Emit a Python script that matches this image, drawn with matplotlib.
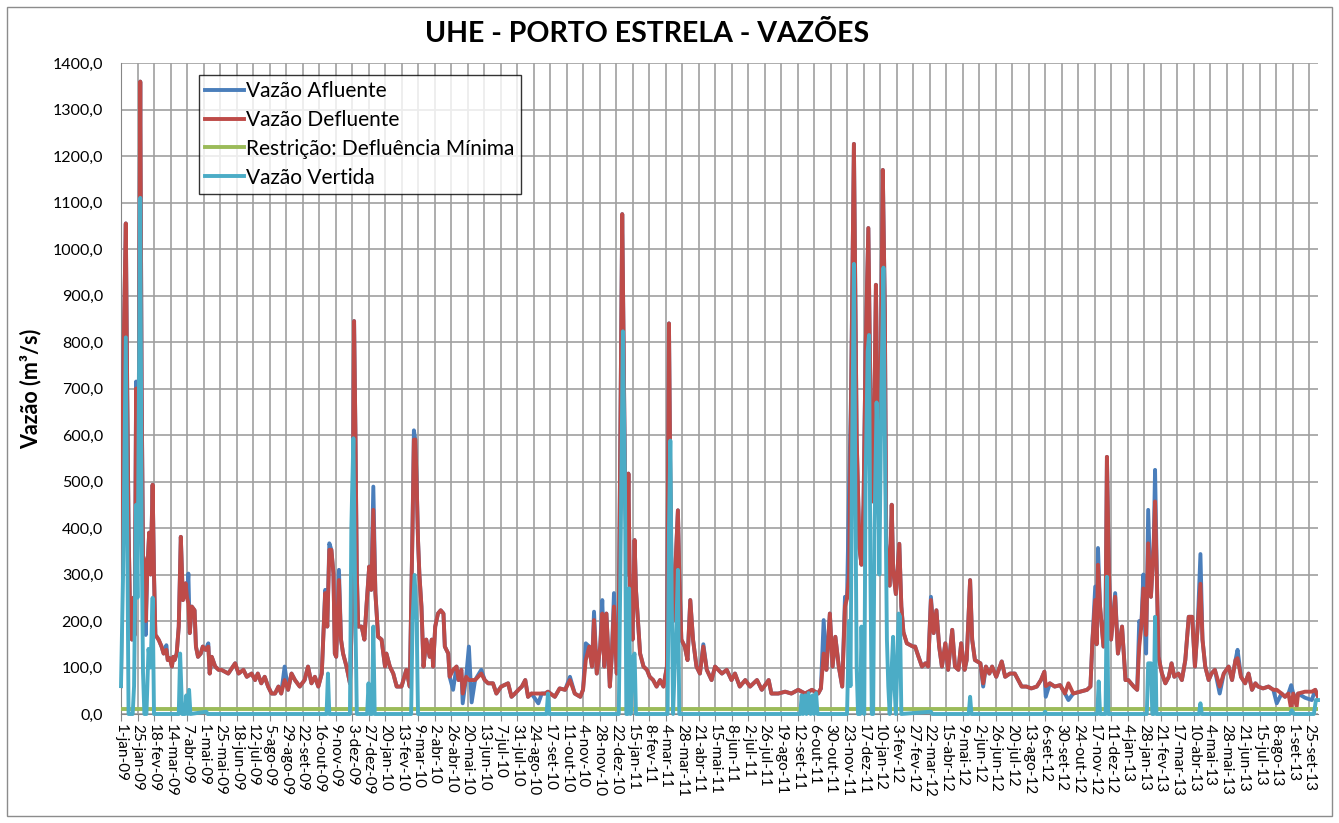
import datetime as dt
import matplotlib
matplotlib.use("Agg")
import matplotlib.pyplot as plt
from matplotlib.patches import Rectangle

# ---------------- data ----------------
inicio = dt.date(2009, 1, 1)
meses = ["jan", "fev", "mar", "abr", "mai", "jun", "jul", "ago", "set", "out", "nov", "dez"]

# day offsets from 1-jan-09 and Vazão Defluente (m³/s)
dias = [0, 2, 4, 7, 9, 11, 13, 16, 18, 20, 22, 24, 26, 28, 30, 32, 34, 36, 38, 41, 43, 46, 48, 50,
        52, 55, 59, 62, 66, 68, 71, 74, 76, 78, 81, 84, 87, 90, 94, 96, 98, 100, 103, 107, 109, 112,
        116, 119, 123, 127, 129, 132, 137, 142, 146, 156, 166, 171, 178, 183, 190, 195, 199, 204, 209,
        214, 219, 224, 229, 233, 238, 243, 248, 253, 260, 267, 272, 277, 282,
        287, 292, 297, 300, 303, 306, 309, 311, 313, 317, 320, 323, 328, 333, 336, 339, 341, 343, 345,
        350, 354, 357, 361, 364, 367, 370, 374, 379, 384, 386, 391, 396, 401, 408, 415, 420, 424, 426,
        428, 430, 432, 434, 437, 440, 444, 449, 452, 454, 457, 461, 465, 469, 471, 476, 478, 483, 488,
        491, 495, 497, 502, 506, 510, 515, 524, 529, 534, 541, 546, 553, 563, 568, 573,
        578, 583, 588, 592, 597, 607, 612, 617, 621, 631, 638, 646, 653, 660, 668, 672, 676, 681, 685,
        688, 692, 697, 700, 703, 706, 711, 714, 717, 721, 724, 729, 731, 733, 736, 738, 740, 744, 747,
        749, 755, 760, 765, 769, 774, 779, 784, 789, 794, 797, 799, 801, 803, 806, 810, 812, 815, 820,
        824, 828, 832, 837, 842, 847, 852, 859, 864, 874, 881, 888, 893, 900, 908, 915, 925, 932, 942,
        946, 956, 966, 975, 985, 995, 1005, 1014, 1018, 1022, 1026, 1031, 1035, 1039, 1044, 1049, 1053,
        1056, 1059, 1062, 1066, 1070, 1074, 1077, 1080, 1083, 1087, 1090, 1094, 1098, 1100, 1104, 1108,
        1111, 1113, 1118, 1121, 1123, 1127, 1132, 1135, 1138, 1143, 1147, 1152, 1155, 1160, 1165, 1170,
        1174, 1178, 1182, 1186, 1190, 1194, 1199, 1203, 1209, 1213, 1218, 1222, 1227, 1230, 1235, 1238,
        1242, 1250, 1254, 1258, 1263, 1267, 1273, 1281, 1286, 1293, 1300, 1305, 1310, 1317, 1324, 1332,
        1338, 1343, 1345, 1351, 1358, 1366, 1373, 1378, 1385, 1395, 1405, 1410, 1413, 1417, 1419, 1421,
        1424, 1429, 1432, 1434, 1437, 1440, 1446, 1450, 1456, 1461, 1465, 1473, 1478, 1481, 1484, 1487,
        1491, 1494, 1498, 1502, 1504, 1507, 1509, 1514, 1519, 1524, 1528, 1532, 1538, 1543, 1548, 1553,
        1558, 1562, 1566, 1570, 1573, 1577, 1582, 1586, 1591, 1598, 1604, 1611, 1616, 1621, 1624, 1629,
        1635, 1640, 1645, 1650, 1654, 1661, 1669, 1676, 1681, 1688, 1693, 1698, 1702, 1705, 1710, 1712,
        1722, 1732, 1737, 1741]

defluente = [60, 600, 800, 1055, 700, 400, 230, 160, 250, 170, 700, 420, 700, 1360, 700, 340, 330, 200, 300, 390, 300, 493, 300, 170,
             166, 159, 145, 130, 138, 116, 120, 102, 123, 116, 130, 188, 381, 245, 281, 250, 238, 174, 231, 223, 145, 123,
             130, 145, 138, 145, 87, 123, 102, 95, 95, 87, 109, 87, 95, 80, 87, 73, 87, 66, 80,
             59, 44, 44, 59, 44, 73, 52, 87, 73, 59, 73, 102, 66, 80,
             59, 87, 260, 188, 353, 353, 302, 130, 123, 288, 160, 130, 102, 66, 216, 845, 600, 300, 188,
             188, 160, 231, 317, 267, 439, 260, 166, 160, 102, 130, 102, 87, 59, 59, 95, 59, 400, 590,
             590, 500, 374, 300, 231, 102, 160, 123, 160, 102, 188, 216, 223, 216, 145, 130, 80, 95, 102,
             73, 95, 44, 80, 73, 73, 73, 87, 73, 66, 66, 44, 59, 66, 37, 44,
             52, 59, 73, 37, 44, 44, 44, 44, 48, 37, 55, 52, 73, 44, 37, 52, 116, 145, 102,
             202, 87, 145, 216, 102, 216, 59, 130, 231, 87, 200, 1075, 800, 500, 300, 517, 274, 160, 374,
             267, 130, 102, 95, 80, 73, 59, 73, 59, 102, 840, 500, 250, 200, 300, 438, 300, 160, 145,
             116, 245, 160, 102, 87, 145, 95, 73, 102, 87, 95, 73, 87, 59, 73, 59, 73, 52, 73,
             44, 44, 48, 44, 52, 44, 52, 44, 55, 130, 95, 216, 102, 166, 102, 59, 231,
             249, 300, 700, 1226, 593, 357, 321, 450, 783, 1045, 683, 457, 923, 683, 593, 1170,
             864, 366, 276, 450, 312, 258, 366, 231, 176, 152, 149, 145, 145, 123, 102, 109,
             102, 245, 174, 223, 145, 102, 152, 95, 181, 102, 95, 152, 95, 116, 288, 160,
             116, 109, 66, 102, 87, 102, 80, 113, 80, 87, 87, 73, 59, 59, 55, 59,
             73, 91, 60, 66, 59, 62, 44, 66, 44, 48, 52, 59, 160, 245, 150, 321,
             231, 145, 200, 553, 300, 160, 252, 130, 188, 73, 73, 59, 52, 145, 188, 270,
             170, 367, 252, 360, 457, 267, 123, 87, 66, 80, 109, 80, 87, 73, 116, 209,
             209, 102, 188, 280, 160, 102, 73, 87, 95, 59, 87, 102, 73, 116, 120, 80,
             66, 87, 52, 66, 59, 55, 59, 52, 52, 44, 37, 44, 10, 44, 16, 44,
             48, 48, 52, 37]

# Vazão Afluente: equal to the Defluente except on these days
afluente_dif = {22: 715, 36: 170, 66: 148, 98: 302, 127: 152, 238: 102, 297: 267, 303: 367,
                317: 310, 367: 489, 426: 610, 483: 52, 497: 23, 506: 145, 510: 25, 524: 95,
                607: 23, 653: 80, 676: 152, 688: 220, 700: 245, 717: 260, 847: 150,
                1022: 202, 1053: 252, 1059: 484, 1178: 252, 1254: 59, 1345: 37, 1378: 30,
                1417: 274, 1421: 357, 1446: 260, 1481: 200, 1487: 300, 1491: 130, 1494: 439,
                1504: 525, 1570: 344, 1598: 44, 1624: 138, 1681: 23, 1702: 62, 1710: 30,
                1722: 35, 1732: 30}

# Vazão Vertida (m³/s)
dias_vertida = [0, 3, 7, 9, 11, 17, 19, 22, 24, 28, 30, 32, 34, 37, 40, 43, 46, 48, 84, 86, 89, 93,
                95, 97, 99, 101, 124, 126, 299, 301, 303, 333, 335, 338, 341, 343, 358, 360, 362,
                365, 367, 369, 422, 424, 427, 430, 432, 619, 621, 623, 724, 727, 730, 733, 735, 737,
                739, 741, 745, 747, 749, 795, 797, 799, 801, 803, 805, 808, 810, 812, 988, 990, 992,
                995, 997, 1000, 1003, 1006, 1008, 1011, 1013, 1056, 1059, 1061, 1063, 1066, 1068,
                1070, 1072, 1075, 1077, 1079, 1081, 1083, 1086, 1088, 1090, 1092, 1094, 1096, 1099,
                1101, 1103, 1106, 1109, 1111, 1113, 1114, 1116, 1118, 1121, 1123, 1125, 1127, 1129,
                1131, 1133, 1135, 1178, 1180, 1233, 1235, 1237, 1342, 1344, 1346, 1420, 1422, 1424,
                1432, 1434, 1436, 1492, 1494, 1498, 1500, 1502, 1504, 1506, 1568, 1570, 1572, 1700,
                1703, 1706, 1735, 1738, 1741]
vertida = [60, 300, 810, 400, 0, 0, 60, 450, 250, 1110, 400, 90, 0, 0, 140, 100, 250, 0, 0, 130, 0, 0,
           40, 0, 52, 0, 5, 0, 0, 87, 0, 0, 400, 593, 200, 0, 0, 66, 0,
           0, 188, 0, 0, 200, 299, 200, 0, 0, 44, 0, 0, 400, 823, 500, 0, 0,
           270, 0, 123, 130, 0, 0, 400, 588, 250, 0, 87, 200, 310, 0, 0, 40, 0,
           40, 0, 45, 0, 40, 0, 45, 0, 0, 200, 60, 500, 968, 500,
           100, 0, 0, 188, 60, 0, 500, 780, 815, 300, 0, 0, 400, 670,
           570, 300, 700, 960, 600, 300, 160, 60, 0, 100, 166, 60, 0, 100,
           216, 210, 0, 5, 0, 0, 37, 0, 0, 5, 0, 0, 70, 0,
           0, 295, 0, 0, 109, 109, 0, 0, 209, 0, 0, 23, 0, 0,
           8, 0, 0, 30, 30]

# Restrição: Defluência Mínima (m³/s)
dias_restricao = [0, 1741]
restricao = [10, 10]

serie_nomes = ["Vazão Afluente", "Vazão Defluente", "Restrição: Defluência Mínima", "Vazão Vertida"]
cores = ["#4A7EBB", "#BE4B48", "#9BBB59", "#4BACC6"]

y_ticks = list(range(0, 1401, 100))
passo_dias = 24
ultimo_tick = 1728
x_fim = 1741

afluente = [afluente_dif.get(d, v) for d, v in zip(dias, defluente)]

# ---------------- figure ----------------
W, H = 1339, 823
fig = plt.figure(figsize=(W / 100, H / 100), dpi=100)
fig.patch.set_facecolor("white")
FONT = ["Lato", "DejaVu Sans"]
plt.rcParams["font.family"] = FONT

# chart-area border
fig.add_artist(Rectangle((7 / W, 1 - 816 / H), (1332 - 7) / W, (816 - 7) / H,
                         transform=fig.transFigure, fill=False, edgecolor="#8c8c8c", lw=1.0))

L, R, T, B = 121, 1318, 63, 714
ax = fig.add_axes([L / W, 1 - B / H, (R - L) / W, (B - T) / H])

lw = 2.8
ax.plot(dias, afluente, color=cores[0], lw=lw, label=serie_nomes[0], zorder=3)
ax.plot(dias, defluente, color=cores[1], lw=lw, label=serie_nomes[1], zorder=4)
ax.plot(dias_restricao, restricao, color=cores[2], lw=lw, label=serie_nomes[2], zorder=5)
ax.plot(dias_vertida, vertida, color=cores[3], lw=lw, label=serie_nomes[3], zorder=6, clip_on=False)

ax.set_xlim(0, x_fim)
ax.set_ylim(0, 1400)

xt = list(range(0, ultimo_tick + 1, passo_dias))
labels = []
for d in xt:
    data = inicio + dt.timedelta(days=d)
    labels.append(f"{data.day}-{meses[data.month - 1]}-{data.year % 100:02d}")
ax.set_xticks(xt)
ax.set_xticklabels(labels, rotation=270, fontsize=11, va="top", ha="center")
ax.set_yticks(y_ticks)
ax.set_yticklabels([f"{v},0" for v in y_ticks], fontsize=11.5)

ax.grid(True, color="#a0a0a0", lw=1.2, zorder=0)
ax.set_axisbelow(True)
for s in ["top", "right"]:
    ax.spines[s].set_visible(False)
for s in ["left", "bottom"]:
    ax.spines[s].set_color("#868686")
ax.tick_params(axis="x", length=5, color="#868686", pad=2)
ax.tick_params(axis="y", length=0, pad=13)

ax.set_ylabel("Vazão (m³/s)", fontsize=15.5, fontweight="bold", labelpad=8)
fig.text(647 / W, 1 - 34 / H, "UHE - PORTO ESTRELA - VAZÕES", fontsize=20.5, fontweight="bold",
         ha="center", va="center")

leg = ax.legend(loc="upper left", bbox_to_anchor=((199 - L) / (R - L), (B - 75) / (B - T)),
                fontsize=15, frameon=True, fancybox=False, edgecolor="black",
                handlelength=1.85, handletextpad=0.12, borderpad=0.3, labelspacing=0.42,
                borderaxespad=0.0)
leg.get_frame().set_linewidth(1.0)
leg.set_zorder(10)

fig.savefig("out.png", dpi=100, facecolor="white")
